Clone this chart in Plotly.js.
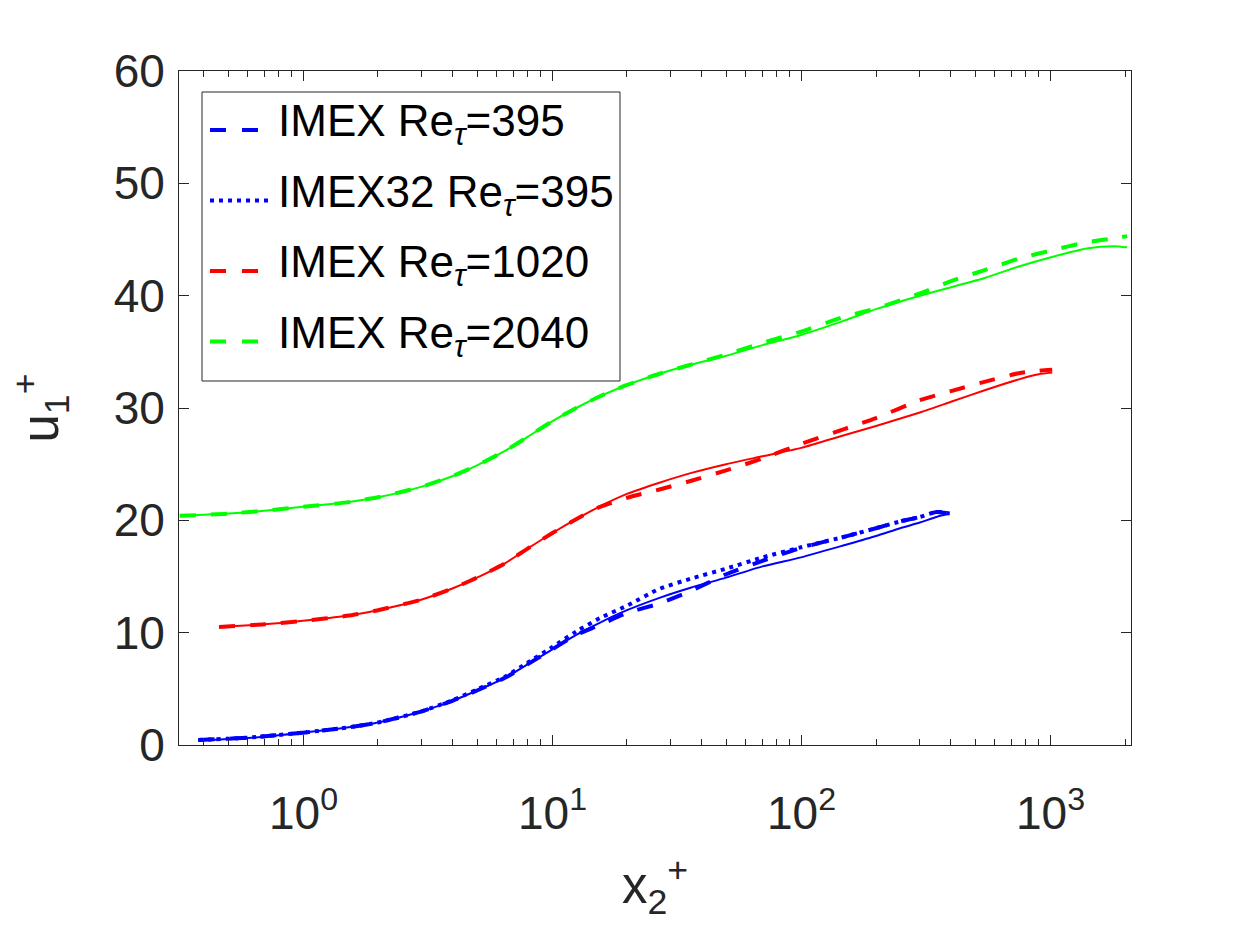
<!DOCTYPE html>
<html>
<head>
<meta charset="utf-8">
<script src="https://cdn.plot.ly/plotly-3.0.1.min.js"></script>
<style>
  html, body { margin: 0; padding: 0; background: #fff; }
  #chart { width: 1250px; height: 938px; }
</style>
</head>
<body>
<div id="chart"></div>
<script>
// wall distance x2+ for each Re_tau
const x395 = [0.38, 0.6, 1, 1.5, 2, 3, 4, 5, 6.5, 8, 10, 12.5, 15.6, 20, 27, 36, 50, 70, 100, 150, 200, 250, 300, 350, 395];
const ref395 = [0.4, 0.62, 1.1, 1.55, 2.0, 3.0, 3.95, 4.85, 6.0, 7.2, 8.5, 9.8, 10.9, 12.0, 13.1, 14.0, 14.9, 15.9, 16.7, 17.8, 18.6, 19.3, 19.8, 20.3, 20.6];
const imex395 = [0.45, 0.65, 1.1, 1.55, 2.0, 3.0, 3.95, 4.85, 6.0, 7.2, 8.5, 9.8, 10.7, 11.75, 12.6, 13.7, 15.2, 16.4, 17.55, 18.55, 19.3, 19.9, 20.3, 20.75, 20.6];
const imex32_395 = [0.45, 0.65, 1.1, 1.55, 2.0, 3.0, 4.0, 4.95, 6.1, 7.35, 8.7, 10.1, 11.3, 12.4, 13.9, 14.8, 15.7, 16.7, 17.6, 18.55, 19.3, 19.9, 20.3, 20.75, 20.6];

const x1020 = [0.46, 0.7, 1, 1.5, 2, 3, 4, 5, 6.5, 8, 10, 12.5, 15.6, 20, 27, 36, 50, 70, 100, 150, 200, 300, 400, 550, 750, 900, 1020];
const ref1020 = [10.5, 10.75, 11.05, 11.5, 12.0, 12.95, 13.95, 14.9, 16.2, 17.5, 18.85, 20.1, 21.25, 22.35, 23.35, 24.2, 25.0, 25.7, 26.45, 27.6, 28.4, 29.6, 30.55, 31.6, 32.55, 33.0, 33.15];
const imex1020 = [10.5, 10.75, 11.05, 11.5, 12.0, 12.95, 13.95, 14.9, 16.2, 17.5, 18.85, 20.1, 21.2, 22.0, 22.75, 23.5, 24.45, 25.5, 26.8, 28.15, 29.1, 30.7, 31.5, 32.35, 33.1, 33.3, 33.4];

const x2040 = [0.32, 0.5, 0.7, 1, 1.5, 2, 3, 4, 5, 6.5, 8, 10, 12.5, 15.6, 20, 27, 36, 50, 70, 100, 150, 200, 300, 400, 550, 750, 1000, 1400, 1800, 2040];
const ref2040 = [20.4, 20.6, 20.85, 21.2, 21.6, 22.05, 23.0, 23.95, 24.9, 26.2, 27.45, 28.8, 30.0, 31.05, 32.05, 33.05, 33.85, 34.65, 35.6, 36.5, 37.8, 38.8, 40.0, 40.75, 41.6, 42.6, 43.4, 44.2, 44.4, 44.3];
const imex2040 = [20.4, 20.6, 20.85, 21.2, 21.6, 22.05, 23.0, 23.95, 24.9, 26.2, 27.45, 28.8, 30.0, 31.05, 32.05, 33.05, 33.85, 34.75, 35.8, 36.8, 38.15, 38.85, 40.2, 41.3, 42.3, 43.3, 44.0, 44.75, 45.1, 45.3];

const names = ['IMEX Re<sub><i>τ</i></sub>=395', 'IMEX32 Re<sub><i>τ</i></sub>=395', 'IMEX Re<sub><i>τ</i></sub>=1020', 'IMEX Re<sub><i>τ</i></sub>=2040'];
const xTickVals = [1, 10, 100, 1000];
const xTickText = ['10<sup>0</sup>', '10<sup>1</sup>', '10<sup>2</sup>', '10<sup>3</sup>'];

const BLUE = '#0000ff', RED = '#ff0000', GREEN = '#00ff00';
const DASH = '16px,15px', DOT = '4px,5px';
const AX = '#262626';
const FONT = '"Liberation Sans", Arial, Helvetica, sans-serif';

function solid(x, y, color) {
  return { x: x, y: y, type: 'scatter', mode: 'lines', showlegend: false, hoverinfo: 'skip',
           line: { color: color, width: 2, shape: 'spline', smoothing: 0.6 } };
}
function broken(x, y, color, dash, name) {
  return { x: x, y: y, type: 'scatter', mode: 'lines', name: name, showlegend: false,
           line: { color: color, width: 4, dash: dash, shape: 'spline', smoothing: 0.6 } };
}

const traces = [
  solid(x395, ref395, BLUE),
  solid(x1020, ref1020, RED),
  solid(x2040, ref2040, GREEN),
  broken(x395, imex395, BLUE, DASH, names[0]),
  broken(x395, imex32_395, BLUE, DOT, names[1]),
  broken(x1020, imex1020, RED, DASH, names[2]),
  broken(x2040, imex2040, GREEN, DASH, names[3])
];

// hand-made legend box (MATLAB style), placed in pixels of the plot area
const PL = 179, PR = 1131, PT = 71, PB = 745;
const px = v => (v - PL) / (PR - PL);
const py = v => (PB - v) / (PB - PT);

const legColors = [BLUE, BLUE, RED, GREEN];
const legDash = ['16px,16px', '4px,5px', '16px,16px', '16px,16px'];
const legEnd = [258, 270, 258, 258];
const shapes = [{
  type: 'rect', xref: 'paper', yref: 'paper', layer: 'above',
  x0: px(202), x1: px(620), y0: py(381), y1: py(92),
  line: { color: AX, width: 1 }, fillcolor: '#fff'
}];
const annotations = [];
names.forEach((n, i) => {
  const rowY = 130 + i * 70.5;
  shapes.push({
    type: 'line', xref: 'paper', yref: 'paper', layer: 'above',
    x0: px(210), x1: px(legEnd[i]), y0: py(rowY), y1: py(rowY),
    line: { color: legColors[i], width: 4, dash: legDash[i] }
  });
  annotations.push({
    xref: 'paper', yref: 'paper', x: px(276), y: py(rowY - 6),
    xanchor: 'left', yanchor: 'middle', showarrow: false,
    text: n, font: { family: FONT, size: 44, color: '#000' }
  });
});

// x tick labels sit lower than Plotly puts them, so draw them at the tick values
xTickVals.forEach((v, i) => {
  annotations.push({
    xref: 'x', yref: 'paper', x: Math.log10(v), y: 0,
    xanchor: 'center', yanchor: 'top', yshift: -34, showarrow: false,
    text: xTickText[i], font: { family: FONT, size: 46, color: AX }
  });
});

const layout = {
  width: 1250, height: 938,
  paper_bgcolor: '#fff', plot_bgcolor: '#fff',
  margin: { l: PL, r: 1250 - PR, t: PT, b: 938 - PB },
  font: { family: FONT, color: AX },
  showlegend: false,
  shapes: shapes,
  annotations: annotations,
  xaxis: {
    type: 'log', range: [-0.498, 3.325],
    tickvals: xTickVals, showticklabels: false,
    ticks: 'inside', ticklen: 10, tickwidth: 1, tickcolor: AX,
    minor: { ticks: 'inside', ticklen: 6, tickcolor: AX, dtick: 'D1', showgrid: false },
    showline: true, linecolor: AX, linewidth: 1, mirror: 'ticks',
    showgrid: false, zeroline: false,
    title: { text: 'x<sub>2</sub><sup>+</sup>', font: { family: FONT, size: 51, color: AX }, standoff: 122 }
  },
  yaxis: {
    range: [0, 60], dtick: 10, tick0: 0,
    ticks: 'inside', ticklen: 10, tickwidth: 1, tickcolor: AX,
    showline: true, linecolor: AX, linewidth: 1, mirror: 'ticks',
    showgrid: false, zeroline: false,
    ticklabelstandoff: 4,
    tickfont: { family: FONT, size: 46, color: AX },
    title: { text: 'u<sub>1</sub><sup>+</sup>', font: { family: FONT, size: 51, color: AX }, standoff: 38 }
  }
};

Plotly.newPlot('chart', traces, layout, { staticPlot: true });
</script>
</body>
</html>
